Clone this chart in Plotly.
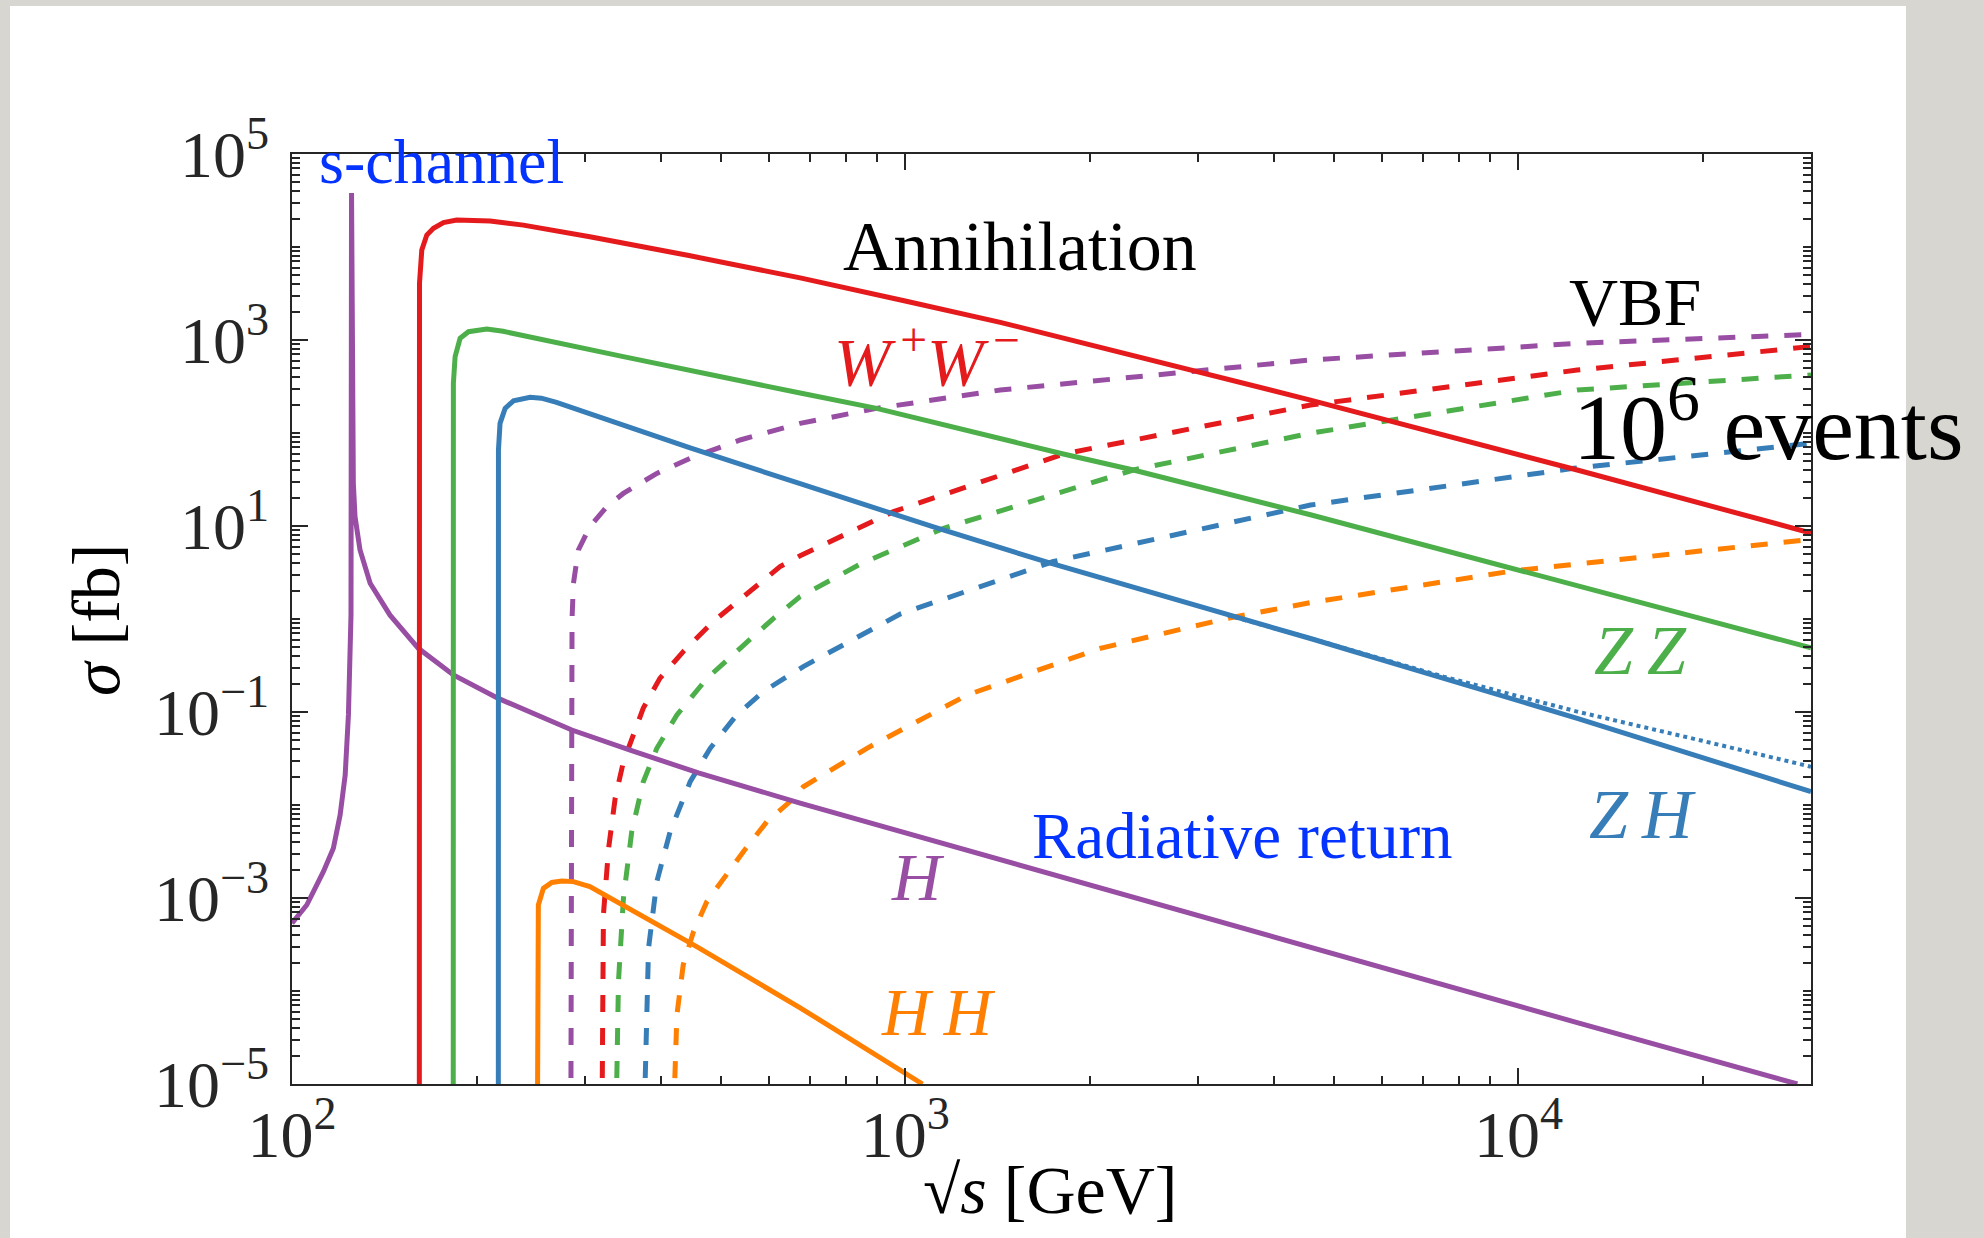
import plotly.graph_objects as go

# ---------------- data (sqrt(s) in GeV, sigma in fb) ----------------
# Annihilation (solid)
ww_x = [161.3, 161.4, 162.8, 165.9, 170.1, 176.6, 185.6, 195.2, 210.4, 238.4, 306, 446, 674, 1000, 1429, 4580, 12470, 30000]
ww_y = [1e-6, 4070, 9290, 13460, 15900, 18280, 19500, 19500, 19050, 17180, 12880, 8040, 4656, 2630, 1549, 226, 40, 8.4]

zz_x = [183.2, 183.3, 184.5, 188, 194, 207.8, 221, 270, 347, 674, 898, 1811, 2355, 4580, 19100, 30000]
zz_y = [1e-6, 342, 662, 1043, 1228, 1313, 1240, 933, 662, 269, 184, 59.4, 40, 13.2, 1.10, 0.49]

zh_x = [217.0, 217.1, 218.4, 222.6, 229.7, 244.5, 255, 270, 290, 320, 360, 446, 674, 1112, 1725, 3350, 4580, 12470, 30000]
zh_y = [1e-6, 65.6, 127, 184, 222, 242, 237, 214, 182, 145, 110, 69.2, 28.5, 9.77, 3.98, 1.10, 0.617, 0.0855, 0.0139]

zh_dot_x = [3350, 4580, 7550, 12470, 19950, 30000]
zh_dot_y = [1.10, 0.62, 0.24, 0.101, 0.049, 0.0258]

hh_x = [251.1, 251.2, 252.2, 257, 265.3, 275.4, 287.7, 306, 347, 457, 674, 1067]
hh_y = [1e-6, 4.37e-4, 8.41e-4, 1.27e-3, 1.47e-3, 1.52e-3, 1.50e-3, 1.33e-3, 8.41e-4, 3.0e-4, 6.6e-5, 1.0e-5]

# s-channel + radiative return (solid purple)
h_x = [100, 100.5, 105.7, 112.5, 116.8, 119.8, 122.1, 123.6, 124.4, 124.8, 125.05, 125.9, 126.7, 129.1, 134.1,
       144.5, 160.7, 183.3, 217, 286, 356, 460, 674, 1618, 4580, 12470, 28500]
h_y = [5.35e-4, 5.57e-4, 8.41e-4, 1.92e-3, 3.42e-3, 7.8e-3, 0.021, 0.093, 0.32, 1.10, 3.8e4, 28.8, 12.6, 5.52, 2.42,
       1.10, 0.484, 0.25, 0.14, 0.064, 0.039, 0.0221, 0.0105, 2.04e-3, 2.95e-4, 4.57e-5, 1.0e-5]

# VBF (dashed)
vbf_h_x = [284.8, 285.2, 286.2, 287.7, 293.1, 306, 326, 347, 393.5, 446, 538, 674, 898, 1429, 2878, 4580, 12470, 30000]
vbf_h_y = [1e-6, 0.01, 1.0, 2.42, 5.52, 9.84, 16.1, 22.4, 36.8, 53.5, 84.1, 127, 184, 290, 457, 610, 920, 1150]

vbf_ww_x = [319.8, 322, 328.3, 336.5, 347.1, 374, 398, 434.5, 486, 625, 674, 957, 1811, 4580, 12470, 30000]
vbf_ww_y = [1e-6, 6.6e-4, 3.42e-3, 0.0118, 0.0292, 0.110, 0.230, 0.446, 0.936, 3.66, 4.79, 14.3, 59.4, 200, 475, 851]

vbf_zz_x = [336.4, 340.7, 347.1, 358.1, 374, 393.5, 424.3, 475, 538, 610, 674, 850, 1155, 2355, 4580, 12470, 30000]
vbf_zz_y = [1e-6, 1.26e-4, 9.9e-4, 5.16e-3, 0.0178, 0.0407, 0.0929, 0.230, 0.484, 1.016, 1.74, 3.98, 9.44, 40, 99.3,
            290, 421]

vbf_zh_x = [373.2, 381.4, 393.5, 413.6, 446, 480.8, 531, 587, 682, 981, 1744, 4580, 12310, 30000]
vbf_zh_y = [1e-6, 2.88e-4, 1.5e-3, 5.16e-3, 0.0178, 0.0407, 0.0929, 0.166, 0.308, 1.13, 4.15, 16.8, 41.7, 77.4]

vbf_hh_x = [415.9, 424.3, 434.5, 451.6, 474.8, 505.3, 544.5, 594.8, 649, 682, 866, 1261, 2080, 3350, 4580, 9827, 30000]
vbf_hh_y = [1e-6, 5.52e-5, 1.91e-4, 4.35e-4, 9.14e-4, 1.63e-3, 3.15e-3, 6.62e-3, 0.0109, 0.0157, 0.0407, 0.152, 0.484,
            1.016, 1.50, 3.30, 7.19]

# ticks
x_tickvals = [1e2, 1e3, 1e4]
x_ticktext = ["10<sup>2</sup>", "10<sup>3</sup>", "10<sup>4</sup>"]
y_tickvals = [1e-5, 1e-3, 1e-1, 1e1, 1e3, 1e5]
y_ticktext = ["10<sup>\u22125</sup>", "10<sup>\u22123</sup>", "10<sup>\u22121</sup>",
              "10<sup>1</sup>", "10<sup>3</sup>", "10<sup>5</sup>"]
x_minor = [k * 10 ** n for n in (2, 3, 4) for k in range(2, 10) if k * 10 ** n <= 30000]
y_minor = [k * 10.0 ** n for n in range(-5, 5) for k in range(1, 10) if not (k == 1 and n % 2 != 0)]

# ---------------- styling ----------------
RED, GREEN, BLUE, PURPLE, ORANGE = "#e41a1c", "#4daf4a", "#377eb8", "#984ea3", "#ff7f00"
TXTBLUE = "#0433ff"
FONT = "Liberation Serif"
W, H = 1984, 1238
L, R, T, B = 292, 1811, 154, 1084
LW = 5
DASH = "17px,16px"


def px(X):
    return (X - L) / (R - L)


def py(Y):
    return (B - Y) / (B - T)


fig = go.Figure()

dashed = [(vbf_h_x, vbf_h_y, PURPLE), (vbf_ww_x, vbf_ww_y, RED), (vbf_zz_x, vbf_zz_y, GREEN),
          (vbf_zh_x, vbf_zh_y, BLUE), (vbf_hh_x, vbf_hh_y, ORANGE)]
for xs, ys, c in dashed:
    fig.add_trace(go.Scatter(x=xs, y=ys, mode="lines", line=dict(color=c, width=LW, dash=DASH),
                             showlegend=False, hoverinfo="skip"))

fig.add_trace(go.Scatter(x=zh_dot_x, y=zh_dot_y, mode="lines", line=dict(color=BLUE, width=4, dash="4px,4px"),
                         showlegend=False, hoverinfo="skip"))

solid = [(h_x, h_y, PURPLE), (ww_x, ww_y, RED), (zz_x, zz_y, GREEN), (zh_x, zh_y, BLUE), (hh_x, hh_y, ORANGE)]
for xs, ys, c in solid:
    fig.add_trace(go.Scatter(x=xs, y=ys, mode="lines", line=dict(color=c, width=LW),
                             showlegend=False, hoverinfo="skip"))

# white panel on grey page
fig.add_shape(type="rect", xref="paper", yref="paper", x0=px(10), x1=px(1906), y0=py(1300), y1=py(6),
              fillcolor="white", line_width=0, layer="below")

AX = "#262626"
common = dict(showline=True, mirror="allticks", linecolor=AX, linewidth=1.5, ticks="inside", ticklen=16,
              tickwidth=1.5, tickcolor=AX, showgrid=False, zeroline=False,
              tickfont=dict(family=FONT, size=66, color=AX))
fig.update_xaxes(type="log", range=[2, 4.4771], tickmode="array", tickvals=x_tickvals, ticktext=x_ticktext,
                 ticklabelstandoff=-8,
                 minor=dict(tickmode="array", tickvals=x_minor, ticks="inside", ticklen=8, tickwidth=1.5,
                            tickcolor=AX, showgrid=False), **common)
fig.update_yaxes(type="log", range=[-5, 5], tickmode="array", tickvals=y_tickvals, ticktext=y_ticktext,
                 ticklabelstandoff=8,
                 minor=dict(tickmode="array", tickvals=y_minor, ticks="inside", ticklen=8, tickwidth=1.5,
                            tickcolor=AX, showgrid=False), **common)


def label(text, X, baseline, size, color, anchor="center"):
    fig.add_annotation(x=px(X), y=py(baseline - 0.335 * size), xref="paper", yref="paper", text=text,
                       showarrow=False, xanchor=anchor, yanchor="middle",
                       font=dict(family=FONT, size=size, color=color))


TS = "\u2009"
label("s-channel", 317, 183, 64, TXTBLUE, anchor="left")
label("Annihilation", 1020, 270, 70, "black")
label(f"<i>W</i><sup>{TS}+</sup><i>W</i><sup>{TS}\u2212</sup>", 927, 380, 68, RED)
label("VBF", 1635, 325, 68, "black")
label("10<sup>6</sup> events", 1571, 451, 94, "black", anchor="left")
label(f"<i>Z{TS}Z</i>", 1640, 674, 70, GREEN)
label(f"<i>Z{TS}H</i>", 1642, 838, 70, BLUE)
label("Radiative return", 1242, 858, 65, TXTBLUE)
label("<i>H</i>", 918, 900, 68, PURPLE)
label(f"<i>H{TS}H</i>", 938, 1034, 67, ORANGE)

# axis titles
fig.add_annotation(x=px(96), y=py(620), xref="paper", yref="paper", text="<i>\u03c3</i> [fb]", textangle=-90,
                   showarrow=False, xanchor="center", yanchor="middle",
                   font=dict(family=FONT, size=68, color="black"))
fig.add_annotation(x=px(1050), y=py(1190), xref="paper", yref="paper", text="\u221a<i>s</i> [GeV]",
                   showarrow=False, xanchor="center", yanchor="middle",
                   font=dict(family=FONT, size=68, color="black"))

fig.update_layout(width=W, height=H, autosize=False,
                  margin=dict(l=L, r=W - R, t=T, b=H - B, pad=0),
                  paper_bgcolor="#d8d6d1", plot_bgcolor="white", showlegend=False)

fig.write_html("out.html", config={"displayModeBar": False},
               post_script="document.body.style.margin='0px';document.body.style.overflow='hidden';")
